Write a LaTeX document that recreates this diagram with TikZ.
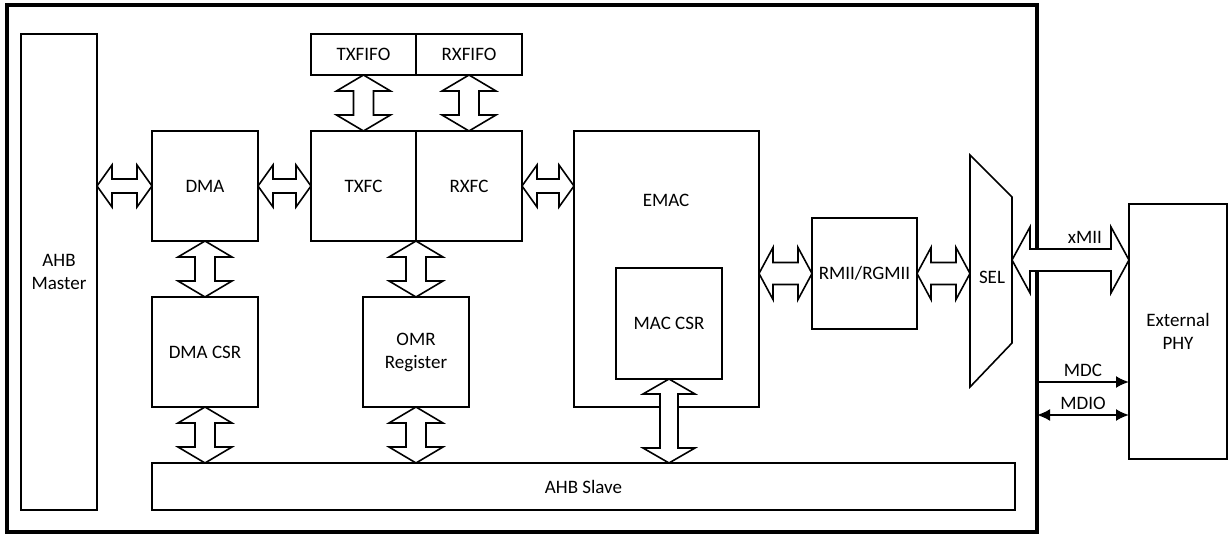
\documentclass[tikz,border=0pt]{standalone}
\usepackage{fontspec}
\setmainfont{Carlito}
\usetikzlibrary{calc,arrows.meta}

% fat two-way bus arrows: [head length]{head half width}{shaft half width}{from}{to}
\newcommand{\busH}[5][15]{%
  \draw[bus] let \p1=(#4), \p2=(#5) in
    (\x1,\y1) -- (\x1+#1pt,\y1+#2pt) -- (\x1+#1pt,\y1+#3pt) -- (\x2-#1pt,\y1+#3pt)
    -- (\x2-#1pt,\y1+#2pt) -- (\x2,\y1) -- (\x2-#1pt,\y1-#2pt) -- (\x2-#1pt,\y1-#3pt)
    -- (\x1+#1pt,\y1-#3pt) -- (\x1+#1pt,\y1-#2pt) -- cycle;}
\newcommand{\busV}[5][16]{%
  \draw[bus] let \p1=(#4), \p2=(#5) in
    (\x1,\y1) -- (\x1+#2pt,\y1-#1pt) -- (\x1+#3pt,\y1-#1pt) -- (\x1+#3pt,\y2+#1pt)
    -- (\x1+#2pt,\y2+#1pt) -- (\x1,\y2) -- (\x1-#2pt,\y2+#1pt) -- (\x1-#3pt,\y2+#1pt)
    -- (\x1-#3pt,\y1-#1pt) -- (\x1-#2pt,\y1-#1pt) -- cycle;}

\begin{document}
\begin{tikzpicture}[x=1pt, y=-1pt,
    every node/.style={font=\fontsize{19}{23}\selectfont},
    blk/.style={draw, line width=1.6pt, outer sep=0pt, align=center, anchor=north west},
    bus/.style={draw, fill=white, line width=1.6pt, line join=miter},
    sig/.style={line width=2pt}]
    \useasboundingbox (0,0) rectangle (1229,534);

    % Chip outline
    \node[draw, line width=3.5pt, outer sep=0pt, anchor=north west,
          minimum width=1030pt, minimum height=527pt] (chip) at (7,5) {};

    % Blocks
    \node[blk, minimum width=76pt, minimum height=476pt] (ahbm) at (21,34) {AHB\\Master};
    \node[blk, minimum width=106pt, minimum height=110pt] (dma) at (152,131) {DMA};
    \node[blk, minimum width=105pt, minimum height=110pt] (txfc) at (311,131) {TXFC};
    \node[blk, minimum width=106pt, minimum height=110pt] (rxfc) at (416,131) {RXFC};
    \node[blk, minimum width=105pt, minimum height=41pt] (txfifo) at (311,34) {TXFIFO};
    \node[blk, minimum width=106pt, minimum height=41pt] (rxfifo) at (416,34) {RXFIFO};
    \node[blk, minimum width=106pt, minimum height=110pt] (dmacsr) at (152,297) {DMA CSR};
    \node[blk, minimum width=106pt, minimum height=110pt] (omr) at (363,297) {OMR\\Register};
    \node[blk, minimum width=185pt, minimum height=276pt] (emac) at (574,131) {};
    \node (emaclbl) at (666,200) {EMAC};
    \node[blk, minimum width=106pt, minimum height=111pt] (maccsr) at (616,268) {MAC CSR};
    \node[blk, minimum width=863pt, minimum height=47pt] (ahbs) at (152,463) {AHB Slave};
    \node[blk, minimum width=105pt, minimum height=111pt] (rmii) at (812,218) {RMII/RGMII};
    \node[blk, minimum width=98pt, minimum height=255pt] (phy) at (1129,204) {External\\PHY};

    % SEL mux
    \draw[line width=1.6pt] (970,155) -- (1012,197) -- (1012,343) -- (970,387) -- cycle;
    \node (sel) at (992,277) {SEL};
    \coordinate (selw) at (970,273);
    \coordinate (sele) at (1012,260);

    % Buses
    \busH{21}{7}{ahbm.east |- dma.west}{dma.west}
    \busH{21}{7}{dma.east}{txfc.west}
    \busH{21}{7}{rxfc.east}{emac.west |- rxfc.east}
    \busV{27}{10}{txfifo.south}{txfc.north}
    \busV{27}{10}{rxfifo.south}{rxfc.north}
    \busV{27}{10}{dma.south}{dmacsr.north}
    \busV{27}{10}{dmacsr.south}{ahbs.north -| dmacsr.south}
    \busV{27}{10}{omr.north |- txfc.south}{omr.north}
    \busV{27}{10}{omr.south}{ahbs.north -| omr.south}
    \busV[15]{26}{9}{maccsr.south}{ahbs.north -| maccsr.south}
    \busH[14]{26}{11}{emac.east |- rmii.west}{rmii.west}
    \busH[14]{26}{11}{rmii.east}{selw |- rmii.east}
    \busH[18]{33}{11}{sele}{phy.west |- sele}
    \node (xmii) at (1085,237) {xMII};

    % Management interface
    \coordinate (mdc) at (1037,382);
    \coordinate (mdio) at (1037,415);
    \draw[sig, -{Latex[length=13pt,width=12pt]}] (mdc) -- (mdc -| phy.west)
        node[midway, above=1pt] (mdclbl) {MDC};
    \draw[sig, {Latex[length=13pt,width=12pt]}-{Latex[length=13pt,width=12pt]}] (mdio) -- (mdio -| phy.west)
        node[midway, above=1pt] (mdiolbl) {MDIO};
\end{tikzpicture}
\end{document}
